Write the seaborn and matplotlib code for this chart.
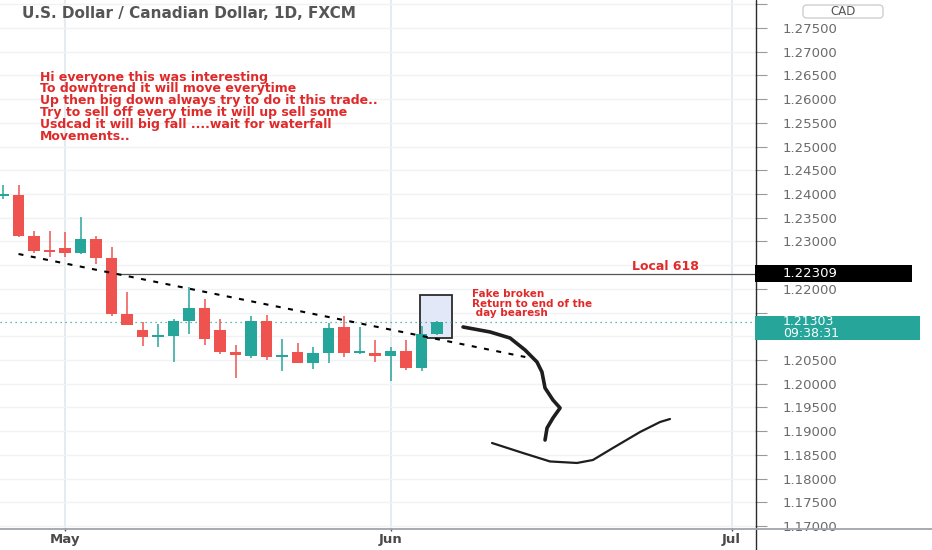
import numpy as np
import pandas as pd
import matplotlib
matplotlib.use("Agg")
import matplotlib.pyplot as plt
from matplotlib.patches import Rectangle, FancyBboxPatch
from matplotlib.lines import Line2D
import seaborn as sns

# ---------------- data ----------------
candle_dates = ["2021-04-27", "2021-04-28", "2021-04-29", "2021-04-30",
                "2021-05-03", "2021-05-04", "2021-05-05", "2021-05-06", "2021-05-07",
                "2021-05-10", "2021-05-11", "2021-05-12", "2021-05-13", "2021-05-14",
                "2021-05-17", "2021-05-18", "2021-05-19", "2021-05-20", "2021-05-21",
                "2021-05-24", "2021-05-25", "2021-05-26", "2021-05-27", "2021-05-28",
                "2021-05-31", "2021-06-01", "2021-06-02", "2021-06-03", "2021-06-04"]
open_px = [1.2396, 1.2398, 1.2312, 1.2282, 1.2286, 1.2276, 1.2305, 1.2265, 1.2147,
           1.2113, 1.2100, 1.2101, 1.2132, 1.2160, 1.2113, 1.2067, 1.2059, 1.2132, 1.2056,
           1.2067, 1.2044, 1.2065, 1.2120, 1.2065, 1.2065, 1.2059, 1.2069, 1.2033, 1.2105]
high_px = [1.2419, 1.2419, 1.2322, 1.2322, 1.2320, 1.2352, 1.2312, 1.2288, 1.2193,
           1.2130, 1.2126, 1.2137, 1.2204, 1.2179, 1.2137, 1.2082, 1.2143, 1.2145, 1.2094,
           1.2086, 1.2077, 1.2128, 1.2143, 1.2120, 1.2092, 1.2077, 1.2092, 1.2122, 1.2132]
low_px = [1.2390, 1.2309, 1.2276, 1.2267, 1.2267, 1.2274, 1.2252, 1.2143, 1.2123,
          1.2080, 1.2077, 1.2046, 1.2105, 1.2082, 1.2063, 1.2012, 1.2054, 1.2050, 1.2027,
          1.2044, 1.2031, 1.2044, 1.2056, 1.2063, 1.2046, 1.2006, 1.2029, 1.2027, 1.2103]
close_px = [1.2400, 1.2312, 1.2280, 1.2279, 1.2276, 1.2305, 1.2265, 1.2147, 1.2124,
            1.2099, 1.2102, 1.2132, 1.2160, 1.2094, 1.2067, 1.2061, 1.2132, 1.2056, 1.2061,
            1.2044, 1.2065, 1.2118, 1.2065, 1.2069, 1.2059, 1.2069, 1.2033, 1.2105, 1.2130]

last_price = 1.21303
countdown = "09:38:31"
local_level = 1.22309
local_level_start = "2021-05-06"
local_label = "Local 618"

# drawings, x in bars counted from 2021-05-03
trend_bar = [-3.0, 29.7]
trend_price = [1.22735, 1.20563]
box_bar = [22.9, 24.95]
box_price = [1.20964, 1.21871]
arrow_bar = [25.68, 27.42, 28.71, 29.68, 30.45, 30.77, 30.97, 31.48, 31.94, 31.48, 31.10, 30.97]
arrow_price = [1.21196, 1.21091, 1.20964, 1.20711, 1.20458, 1.20247, 1.19910, 1.19657,
               1.19488, 1.19277, 1.19067, 1.18813]
curve_bar = [27.55, 29.55, 31.29, 33.03, 34.06, 35.35, 37.10, 38.39, 39.03]
curve_price = [1.18750, 1.18539, 1.18361, 1.18329, 1.18392, 1.18645, 1.18982, 1.19193, 1.19256]

price_ticks = [1.170, 1.175, 1.180, 1.185, 1.190, 1.195, 1.200, 1.205, 1.210, 1.215,
               1.220, 1.225, 1.230, 1.235, 1.240, 1.245, 1.250, 1.255, 1.260, 1.265,
               1.270, 1.275, 1.280]
# tick labels hidden behind the price badges / currency badge
hidden_tick_labels = [1.210, 1.215, 1.225, 1.280]
month_starts = ["2021-05-03", "2021-06-01", "2021-07-01"]
month_labels = ["May", "Jun", "Jul"]

title = "U.S. Dollar / Canadian Dollar, 1D, FXCM"
currency = "CAD"
note_lines = ["Hi everyone this was interesting",
              "To downtrend it will move everytime",
              "Up then big down always try to do it this trade..",
              "Try to sell off every time it will up sell some",
              "Usdcad it will big fall ....wait for waterfall",
              "Movements.."]
fake_lines = ["Fake broken", "Return to end of the", " day bearesh"]

# ---------------- style ----------------
TEAL = "#26a69a"
RED = "#ef5350"
TXT_RED = "#e02a2a"

sns.set_theme(style="white")
plt.rcParams["font.family"] = ["DejaVu Sans"]

W, H = 932, 550
fig = plt.figure(figsize=(W / 100, H / 100), dpi=100, facecolor="white")
ax = fig.add_axes([0, 22 / H, 755 / W, 528 / H])
ax.set_facecolor("white")


def fx(px):
    return px / W


def fy(py):
    return 1 - py / H


cal = pd.bdate_range("2021-04-26", "2021-07-02")
origin = cal.get_loc(pd.Timestamp("2021-05-03"))


def bar_pos(d):
    return cal.get_loc(pd.Timestamp(d)) - origin


df = pd.DataFrame({"date": candle_dates, "open": open_px, "high": high_px,
                   "low": low_px, "close": close_px})
df["pos"] = [bar_pos(d) for d in df["date"]]
up = df["close"] >= df["open"]
colors = np.where(up, TEAL, RED)

# wicks and bodies
ax.vlines(df["pos"], df["low"], df["high"], colors=colors, lw=1.1, zorder=3)
body_lo = np.minimum(df["open"], df["close"])
body_h = np.abs(df["close"] - df["open"])
min_h = 0.00042
body_lo = np.where(body_h < min_h, (df["open"] + df["close"]) / 2 - min_h / 2, body_lo)
body_h = np.maximum(body_h, min_h)
ax.bar(df["pos"], body_h, bottom=body_lo, width=0.72, color=colors, linewidth=0, zorder=4)

# highlight box
ax.add_patch(Rectangle((box_bar[0], box_price[0]), box_bar[1] - box_bar[0],
                       box_price[1] - box_price[0], facecolor="#e3e8f8",
                       edgecolor="#2b2b2b", lw=1.3, zorder=2))

# lines
xmax = 44.516
ax.hlines(local_level, bar_pos(local_level_start), xmax, color="#555555", lw=0.9, zorder=2)
ax.axhline(last_price, color=TEAL, lw=0.9, ls=(0, (1, 3)), zorder=2)
sns.lineplot(x=trend_bar, y=trend_price, ax=ax, color="black", linewidth=1.5,
             linestyle=(0, (2.4, 3.6)), estimator=None, sort=False, zorder=5)
sns.lineplot(x=arrow_bar, y=arrow_price, ax=ax, color="#1e1e1e", linewidth=2.6,
             estimator=None, sort=False, solid_capstyle="round", solid_joinstyle="round", zorder=5)
sns.lineplot(x=curve_bar, y=curve_price, ax=ax, color="#1e1e1e", linewidth=1.6,
             estimator=None, sort=False, solid_capstyle="round", zorder=5)

# axes
ax.set_xlim(-4.194, xmax)
ax.set_ylim(1.16958, 1.2809)
ax.set_yticks(price_ticks)
ax.set_yticklabels(["" if any(abs(v - h) < 1e-9 for h in hidden_tick_labels) else f"{v:.5f}"
                    for v in price_ticks])
ax.yaxis.tick_right()
ax.set_xticks([bar_pos(d) for d in month_starts])
ax.set_xticklabels(month_labels, fontweight="bold")
ax.tick_params(axis="y", right=True, left=False, length=8.6, width=0.8, color="#9a9a9a",
               pad=11.5, labelsize=9.5, labelcolor="#6b6b6b")
ax.tick_params(axis="x", bottom=True, length=2, width=1, color="#555555", pad=1.6,
               labelsize=9.5, labelcolor="#4a4a4a")
ax.grid(True, axis="y", color="#f0f2f6", lw=1)
ax.grid(True, axis="x", color="#e2e8ee", lw=1.2)
ax.set_axisbelow(True)
ax.set_xlabel("")
ax.set_ylabel("")
for s in ax.spines.values():
    s.set_visible(False)

# frame lines
fig.add_artist(Line2D([fx(755.5)] * 2, [0, 1], color="#2b2b2b", lw=1.0, zorder=2))
fig.add_artist(Line2D([0, 1], [fy(528.5)] * 2, color="#a0a4aa", lw=1.3, zorder=2))

# price labels on axis
fig.add_artist(Rectangle((fx(755), fy(282)), (912 - 755) / W, 17 / H, transform=fig.transFigure,
                         facecolor="black", edgecolor="none", zorder=5))
fig.text(fx(783), fy(273.5), f"{local_level:.5f}", color="white", fontsize=9.5,
         va="center", ha="left", zorder=6)
fig.add_artist(Rectangle((fx(755), fy(340)), 165 / W, 24.5 / H, transform=fig.transFigure,
                         facecolor=TEAL, edgecolor="none", zorder=5))
fig.text(fx(783), fy(321.5), f"{last_price:.5f}", color="white", fontsize=9,
         va="center", ha="left", zorder=6)
fig.text(fx(783), fy(333.5), countdown, color="white", fontsize=9,
         va="center", ha="left", zorder=6)

# currency badge
fig.add_artist(FancyBboxPatch((fx(803), fy(18)), 80 / W, 13 / H,
                              boxstyle="round,pad=0,rounding_size=0.004", mutation_aspect=W / H,
                              transform=fig.transFigure, facecolor="white",
                              edgecolor="#cfcfcf", lw=1, zorder=5))
fig.text(fx(843), fy(11.5), currency, color="#555555", fontsize=8.5, ha="center",
         va="center", zorder=6)

# texts
fig.text(fx(22), fy(13), title, fontsize=11, fontweight="bold", color="#555555",
         ha="left", va="center")
for k, line in enumerate(note_lines):
    fig.text(fx(40), fy(77 + k * 11.8), line, fontsize=9, fontweight="bold",
             color=TXT_RED, ha="left", va="center")
fig.text(fx(665), fy(266.5), local_label, fontsize=9, fontweight="bold", color=TXT_RED,
         ha="center", va="center")
for k, line in enumerate(fake_lines):
    fig.text(fx(472), fy(294 + k * 9.6), line, fontsize=7.5, fontweight="bold",
             color=TXT_RED, ha="left", va="center")

fig.savefig("out.png", dpi=100, facecolor="white")
